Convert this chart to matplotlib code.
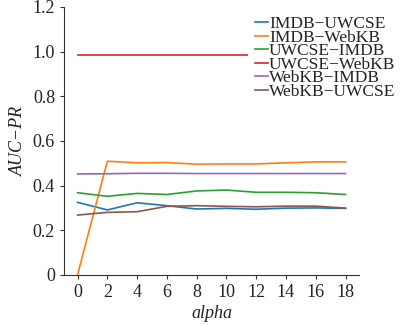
import numpy as np
import matplotlib
matplotlib.use("Agg")
import matplotlib.pyplot as plt

plt.rcParams['font.family'] = ['Liberation Serif', 'DejaVu Serif']
plt.rcParams['mathtext.fontset'] = 'stix'

alpha = [0, 2, 4, 6, 8, 10, 12, 14, 16, 18]
labels = ['IMDB\u2212UWCSE', 'IMDB\u2212WebKB', 'UWCSE\u2212IMDB',
          'UWCSE\u2212WebKB', 'WebKB\u2212IMDB', 'WebKB\u2212UWCSE']
imdb_uwcse = [0.325, 0.291, 0.323, 0.310, 0.295, 0.298, 0.294, 0.299, 0.300, 0.298]
imdb_webkb = [0.0, 0.509, 0.502, 0.503, 0.496, 0.497, 0.497, 0.502, 0.506, 0.506]
uwcse_imdb = [0.368, 0.352, 0.365, 0.360, 0.376, 0.380, 0.370, 0.370, 0.368, 0.360]
uwcse_webkb = [0.987, 0.987, 0.987, 0.987, 0.987, 0.987, 0.987, 0.987, 0.987, 0.987]
webkb_imdb = [0.452, 0.453, 0.455, 0.455, 0.454, 0.454, 0.454, 0.454, 0.454, 0.454]
webkb_uwcse = [0.268, 0.280, 0.283, 0.307, 0.310, 0.307, 0.305, 0.308, 0.308, 0.299]

series = [imdb_uwcse, imdb_webkb, uwcse_imdb, uwcse_webkb, webkb_imdb, webkb_uwcse]

fig = plt.figure(figsize=(4.06, 3.32), dpi=100)
ax = fig.add_axes([0.158, 0.172, 0.726, 0.807])

for vals, lab in zip(series, labels):
    ax.plot(alpha, vals, lw=1.2, label=lab)

ax.set_xlim(-0.9, 18.9)
ax.set_ylim(0, 1.2)
ax.set_xticks(alpha)
ax.set_yticks([0, 0.2, 0.4, 0.6, 0.8, 1.0, 1.2])
ax.set_yticklabels(['0', '0.2', '0.4', '0.6', '0.8', '1.0', '1.2'])
ax.tick_params(labelsize=13, length=3, width=0.8, color='#333333', labelcolor='#222222')
ax.spines['top'].set_visible(False)
ax.spines['right'].set_visible(False)
for s in ['left', 'bottom']:
    ax.spines[s].set_color('#333333')
    ax.spines[s].set_linewidth(0.8)

ax.set_xlabel('alpha', fontsize=13, style='italic', color='#222222', labelpad=3)
ax.set_ylabel('AUC\u2212PR', fontsize=13, style='italic', color='#222222')

leg = fig.legend(loc='upper left', bbox_to_anchor=(248 / 406, 1 - 9 / 332),
                 fontsize=12.5, frameon=True, facecolor='white', edgecolor='none',
                 framealpha=1, labelspacing=-0.15, handlelength=0.75,
                 handletextpad=0.05, borderpad=0.4, borderaxespad=0)
for t in leg.get_texts():
    t.set_color('#222222')

fig.savefig('out.png', dpi=100)
